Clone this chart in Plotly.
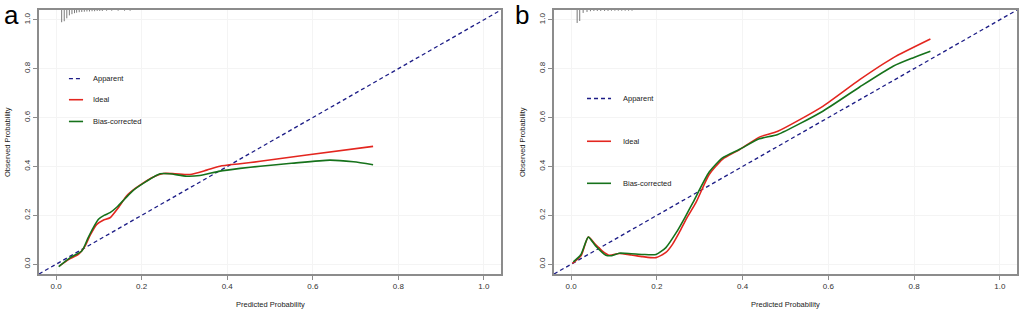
import plotly.graph_objects as go

# ---------------- data ----------------
ticks = [0.0, 0.2, 0.4, 0.6, 0.8, 1.0]
tick_labels = ["0.0", "0.2", "0.4", "0.6", "0.8", "1.0"]
series_names = ["Apparent", "Ideal", "Bias-corrected"]
panel_labels = ["a", "b"]

# Panel a
a_ideal_x = [0.008, 0.03, 0.052, 0.068, 0.08, 0.095, 0.11, 0.126, 0.145, 0.165, 0.185, 0.204, 0.225,
             0.251, 0.278, 0.313, 0.352, 0.383, 0.43, 0.477, 0.586, 0.741]
a_ideal_y = [-0.007, 0.02, 0.04, 0.075, 0.12, 0.163, 0.18, 0.19, 0.23, 0.28, 0.31, 0.333, 0.355,
             0.371, 0.37, 0.367, 0.385, 0.401, 0.411, 0.421, 0.447, 0.482]
a_bias_x = [0.006, 0.033, 0.06, 0.075, 0.087, 0.099, 0.112, 0.126, 0.143, 0.161, 0.181, 0.212, 0.243,
            0.266, 0.305, 0.336, 0.383, 0.43, 0.477, 0.55, 0.64, 0.695, 0.741]
a_bias_y = [-0.01, 0.027, 0.054, 0.109, 0.15, 0.184, 0.2, 0.211, 0.235, 0.268, 0.303, 0.34, 0.37,
            0.37, 0.36, 0.363, 0.381, 0.392, 0.401, 0.413, 0.426, 0.419, 0.407]
a_rug_x = [0.013, 0.019, 0.025, 0.031, 0.037, 0.043, 0.048, 0.054, 0.060, 0.066, 0.072, 0.078, 0.084,
           0.090, 0.096, 0.102, 0.108, 0.118, 0.130, 0.145, 0.160, 0.173]
a_rug_len = [0.050, 0.046, 0.034, 0.022, 0.017, 0.013, 0.011, 0.009, 0.008, 0.007, 0.006, 0.006, 0.005,
             0.005, 0.004, 0.004, 0.004, 0.003, 0.003, 0.003, 0.003, 0.003]

# Panel b
b_ideal_x = [0.003, 0.023, 0.04, 0.057, 0.073, 0.089, 0.112, 0.14, 0.167, 0.198, 0.221, 0.236, 0.252,
             0.27, 0.291, 0.322, 0.353, 0.393, 0.439, 0.482, 0.587, 0.673, 0.751, 0.838]
b_ideal_y = [0.003, 0.034, 0.111, 0.08, 0.054, 0.037, 0.044, 0.038, 0.031, 0.027, 0.048, 0.08, 0.129,
             0.19, 0.252, 0.367, 0.429, 0.469, 0.52, 0.544, 0.646, 0.755, 0.844, 0.921]
b_bias_x = [0.005, 0.023, 0.04, 0.057, 0.081, 0.095, 0.112, 0.14, 0.167, 0.198, 0.221, 0.245, 0.265,
            0.284, 0.322, 0.353, 0.393, 0.439, 0.482, 0.587, 0.673, 0.751, 0.797, 0.838]
b_bias_y = [0.01, 0.04, 0.111, 0.075, 0.037, 0.035, 0.045, 0.043, 0.04, 0.04, 0.068, 0.129, 0.19,
            0.252, 0.377, 0.435, 0.47, 0.513, 0.531, 0.626, 0.725, 0.81, 0.844, 0.871]
b_rug_x = [0.014, 0.020, 0.028, 0.037, 0.045, 0.053, 0.061, 0.069, 0.078, 0.086, 0.094, 0.102, 0.110,
           0.118, 0.126, 0.134, 0.142]
b_rug_len = [0.053, 0.045, 0.012, 0.008, 0.005, 0.004, 0.004, 0.004, 0.004, 0.004, 0.003, 0.003, 0.003,
             0.003, 0.003, 0.003, 0.003]

diag = [-0.04, 1.04]
AX_RANGE = [-0.04, 1.04]

# ---------------- style ----------------
W, H = 1026, 312
FONT = "Arial, Liberation Sans, sans-serif"
NAVY = "#1c1c86"
RED = "#e3261f"
GREEN = "#16721b"
GRAY = "#8c8c8c"

panels = [
    dict(ideal=(a_ideal_x, a_ideal_y), bias=(a_bias_x, a_bias_y), rug=(a_rug_x, a_rug_len),
         px=(39, 501), leg_x=(0.030, 0.056, 0.063, 0.082), leg_y=(0.759, 0.673, 0.584), lab_x=11),
    dict(ideal=(b_ideal_x, b_ideal_y), bias=(b_bias_x, b_bias_y), rug=(b_rug_x, b_rug_len),
         px=(554, 1017), leg_x=(0.037, 0.093, 0.093, 0.117), leg_y=(0.678, 0.503, 0.331), lab_x=522),
]
top_px, bot_px = 10, 274
y_dom = [1 - bot_px / H, 1 - top_px / H]

fig = go.Figure()
annotations = []
shapes = []

for i, p in enumerate(panels):
    sfx = "" if i == 0 else str(i + 1)
    xr, yr = "x" + sfx, "y" + sfx
    # rug (distribution of predictions) hanging from top
    rx, ry = [], []
    top = AX_RANGE[1]
    for xv, lv in zip(*p["rug"]):
        rx += [xv, xv, None]
        ry += [top, top - lv, None]
    fig.add_trace(go.Scatter(x=rx, y=ry, mode="lines", line=dict(color="#7a7a7a", width=1),
                             xaxis=xr, yaxis=yr, showlegend=False, hoverinfo="skip"))
    # diagonal
    fig.add_trace(go.Scatter(x=diag, y=diag, mode="lines",
                             line=dict(color=NAVY, width=1.3, dash="4px,3px"),
                             xaxis=xr, yaxis=yr, showlegend=False, name=series_names[0]))
    fig.add_trace(go.Scatter(x=p["ideal"][0], y=p["ideal"][1], mode="lines",
                             line=dict(color=RED, width=1.6, shape="spline", smoothing=0.6),
                             xaxis=xr, yaxis=yr, showlegend=False, name=series_names[1]))
    fig.add_trace(go.Scatter(x=p["bias"][0], y=p["bias"][1], mode="lines",
                             line=dict(color=GREEN, width=1.6, shape="spline", smoothing=0.6),
                             xaxis=xr, yaxis=yr, showlegend=False, name=series_names[2]))

    x0, x1 = p["px"]
    dom = [x0 / W, x1 / W]
    axis_common = dict(range=AX_RANGE, tickvals=ticks, ticktext=tick_labels, ticks="outside",
                       ticklen=4, tickcolor=GRAY, tickwidth=1, showline=True, mirror=True,
                       linecolor=GRAY, linewidth=1.5, showgrid=True, gridcolor="#f4f4f4",
                       zeroline=False, tickfont=dict(family=FONT, size=8, color="#333"))
    fig.update_layout(**{
        "xaxis" + sfx: dict(domain=dom, anchor=yr, **axis_common),
        "yaxis" + sfx: dict(domain=y_dom, anchor=xr, tickangle=-90, **axis_common),
    })

    # legend samples
    lx0, lx1d, lx1s, ltx = p["leg_x"]
    ly = p["leg_y"]
    shapes.append(dict(type="line", xref=xr, yref=yr, x0=lx0, x1=lx1d, y0=ly[0], y1=ly[0],
                       line=dict(color=NAVY, width=1.3, dash="4px,3px")))
    shapes.append(dict(type="line", xref=xr, yref=yr, x0=lx0, x1=lx1s, y0=ly[1], y1=ly[1],
                       line=dict(color=RED, width=1.6)))
    shapes.append(dict(type="line", xref=xr, yref=yr, x0=lx0, x1=lx1s, y0=ly[2], y1=ly[2],
                       line=dict(color=GREEN, width=1.6)))
    for name, yy in zip(series_names, ly):
        annotations.append(dict(x=ltx, y=yy, xref=xr, yref=yr, text=name, showarrow=False,
                                xanchor="left", yanchor="middle",
                                font=dict(family=FONT, size=7.5, color="#222")))

    # axis titles
    annotations.append(dict(x=(x0 + x1) / 2 / W, y=1 - 304 / H, xref="paper", yref="paper",
                            text="Predicted Probability", showarrow=False,
                            xanchor="center", yanchor="middle",
                            font=dict(family=FONT, size=7.5, color="#222")))
    annotations.append(dict(x=(x0 - 31) / W, y=1 - 142 / H, xref="paper", yref="paper",
                            text="Observed Probability", showarrow=False, textangle=-90,
                            xanchor="center", yanchor="middle",
                            font=dict(family=FONT, size=7.5, color="#222")))
    # panel label
    annotations.append(dict(x=p["lab_x"] / W, y=1 - 15 / H, xref="paper", yref="paper",
                            text=panel_labels[i], showarrow=False,
                            xanchor="center", yanchor="middle",
                            font=dict(family=FONT, size=26, color="#000")))

fig.update_layout(width=W, height=H, margin=dict(l=0, r=0, t=0, b=0),
                  paper_bgcolor="white", plot_bgcolor="white", showlegend=False,
                  annotations=annotations, shapes=shapes)

fig.write_html("out.html", config={"displayModeBar": False},
               post_script="document.body.style.margin='0';document.body.style.overflow='hidden';")
